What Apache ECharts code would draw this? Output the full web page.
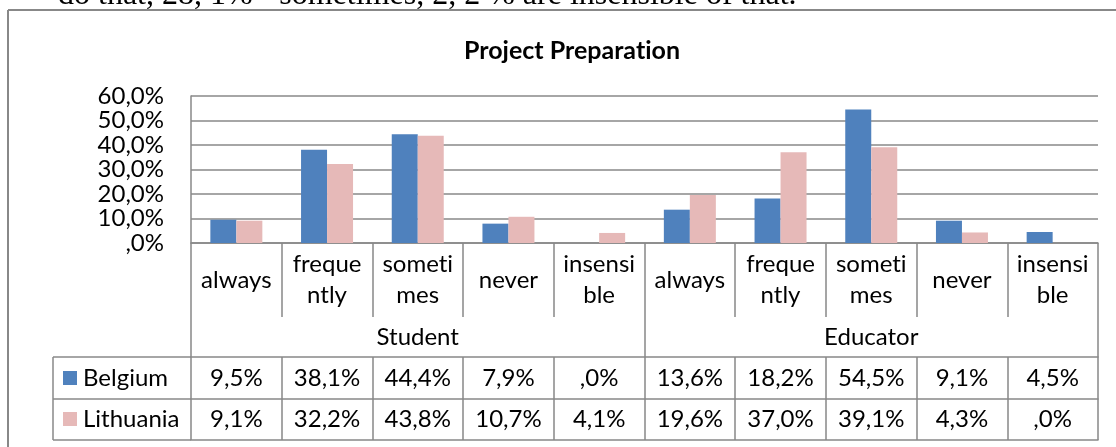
<!DOCTYPE html>
<html>
<head>
<meta charset="utf-8">
<script src="https://cdn.jsdelivr.net/npm/echarts@6/dist/echarts.min.js"></script>
<style>
html,body{margin:0;padding:0;background:#fff;}
#chart{width:1116px;height:447px;}
</style>
</head>
<body>
<div id="chart"></div>
<script>
// ---- data ----
const categories = ['always', 'freque\nntly', 'someti\nmes', 'never', 'insensi\nble',
                    'always', 'freque\nntly', 'someti\nmes', 'never', 'insensi\nble'];
const groups = ['Student', 'Educator'];
const belgium = [9.5, 38.1, 44.4, 7.9, 0.0, 13.6, 18.2, 54.5, 9.1, 4.5];
const lithuania = [9.1, 32.2, 43.8, 10.7, 4.1, 19.6, 37.0, 39.1, 4.3, 0.0];
const seriesNames = ['Belgium', 'Lithuania'];
const yMin = 0, yMax = 60, yStep = 10;
const titleText = 'Project Preparation';
const aboveText = 'do that, 28, 1% - sometimes, 2, 2 % are insensible of that.';

// ---- style ----
const FONT = 'Lato';
const FS = 24;
const LINE = '#888888';
const LW = 1.5;
const BLUE = '#4F81BD';
const PINK = '#E6B9B8';

// plain glyphs (no "ti" ligature), like the original Calibri text
(function () {
  const orig = HTMLCanvasElement.prototype.getContext;
  HTMLCanvasElement.prototype.getContext = function (type, opts) {
    const ctx = orig.call(this, type, opts);
    if (ctx && type === '2d' && 'textRendering' in ctx) {
      try { ctx.textRendering = 'optimizeSpeed'; } catch (e) {}
    }
    return ctx;
  };
})();

function fmt(v) {
  let s = Number(v).toFixed(1).replace('.', ',');
  if (s.startsWith('0,')) s = s.slice(1);
  return s + '%';
}

const chart = echarts.init(document.getElementById('chart'), null, {renderer: 'canvas'});

const gridLeft = 191, gridRight = 18, gridTop = 96, gridBottom = 204;
const rowCat = 74, rowGroup = 40, rowB = 42, rowL = 41;

const baseAxis = {
  type: 'category',
  gridIndex: 0,
  position: 'bottom',
  data: categories,
  boundaryGap: true,
  axisLine: {show: true, lineStyle: {color: LINE, width: LW}},
  splitLine: {show: false},
};

const option = {
  animation: false,
  backgroundColor: '#ffffff',
  textStyle: {fontFamily: FONT},
  title: {
    text: titleText,
    left: 567,
    textAlign: 'center',
    top: 33,
    textStyle: {fontFamily: FONT, fontWeight: 'bold', fontSize: 25, color: '#000'}
  },
  legend: [
    {data: [seriesNames[0]], left: 63, top: 366, padding: 0, icon: 'rect', itemWidth: 14, itemHeight: 14,
     selectedMode: false, textStyle: {fontFamily: FONT, fontSize: FS, color: '#000', padding: [0,0,0,1]}},
    {data: [seriesNames[1]], left: 63, top: 407, padding: 0, icon: 'rect', itemWidth: 14, itemHeight: 14,
     selectedMode: false, textStyle: {fontFamily: FONT, fontSize: FS, color: '#000', padding: [0,0,0,1]}}
  ],
  grid: {left: gridLeft, right: gridRight, top: gridTop, bottom: gridBottom, containLabel: false},
  xAxis: [
    Object.assign({}, baseAxis, {
      offset: 0,
      axisTick: {show: true, interval: 0, length: rowCat, lineStyle: {color: LINE, width: LW}},
      axisLabel: {interval: 0, margin: rowCat / 2, verticalAlign: 'middle', lineHeight: 31,
                  fontFamily: FONT, fontSize: FS, color: '#000'}
    }),
    Object.assign({}, baseAxis, {
      data: groups,
      offset: rowCat,
      axisLine: {show: false},
      axisTick: {show: true, interval: 0, length: rowGroup, lineStyle: {color: LINE, width: LW}},
      axisLabel: {interval: 0, margin: rowGroup / 2, verticalAlign: 'middle',
                  fontFamily: FONT, fontSize: FS, color: '#000'}
    }),
    Object.assign({}, baseAxis, {
      offset: rowCat + rowGroup,
      axisTick: {show: true, interval: 0, length: rowB, lineStyle: {color: LINE, width: LW}},
      axisLabel: {interval: 0, margin: rowB / 2, verticalAlign: 'middle',
                  formatter: (v, i) => fmt(belgium[i]),
                  fontFamily: FONT, fontSize: FS, color: '#000'}
    }),
    Object.assign({}, baseAxis, {
      offset: rowCat + rowGroup + rowB,
      axisTick: {show: true, interval: 0, length: rowL, lineStyle: {color: LINE, width: LW}},
      axisLabel: {interval: 0, margin: rowL / 2, verticalAlign: 'middle',
                  formatter: (v, i) => fmt(lithuania[i]),
                  fontFamily: FONT, fontSize: FS, color: '#000'}
    }),
    Object.assign({}, baseAxis, {
      offset: rowCat + rowGroup + rowB + rowL,
      axisTick: {show: false},
      axisLabel: {show: false}
    })
  ],
  yAxis: {
    type: 'value',
    min: yMin, max: yMax, interval: yStep,
    axisLine: {show: true, lineStyle: {color: LINE, width: LW}},
    axisTick: {show: false},
    splitLine: {show: true, lineStyle: {color: LINE, width: LW}},
    axisLabel: {margin: 27, formatter: v => fmt(v), fontFamily: FONT, fontSize: FS, color: '#000'}
  },
  series: [
    {name: seriesNames[0], type: 'bar', xAxisIndex: 0, data: belgium, barWidth: 26, barGap: '0%',
     itemStyle: {color: BLUE}},
    {name: seriesNames[1], type: 'bar', xAxisIndex: 0, data: lithuania, barWidth: 26, barGap: '0%',
     itemStyle: {color: PINK}}
  ],
  graphic: [
    // text of the page above the chart, cut at the top
    {type: 'text', left: 58, top: -20, style: {text: aboveText, font: '32px "Liberation Serif"', fill: '#000'}},
    // chart outer frame
    {type: 'line', shape: {x1: 8, y1: 10, x2: 1116, y2: 10}, style: {stroke: LINE, lineWidth: 2}},
    {type: 'line', shape: {x1: 8, y1: 10, x2: 8, y2: 447}, style: {stroke: LINE, lineWidth: 2}},
    // legend cells of data table
    {type: 'line', shape: {x1: 53, y1: 357, x2: 191, y2: 357}, style: {stroke: LINE, lineWidth: LW}},
    {type: 'line', shape: {x1: 53, y1: 399, x2: 191, y2: 399}, style: {stroke: LINE, lineWidth: LW}},
    {type: 'line', shape: {x1: 53, y1: 440, x2: 191, y2: 440}, style: {stroke: LINE, lineWidth: LW}},
    {type: 'line', shape: {x1: 53, y1: 357, x2: 53, y2: 440}, style: {stroke: LINE, lineWidth: LW}}
  ]
};

chart.setOption(option);
</script>
</body>
</html>
